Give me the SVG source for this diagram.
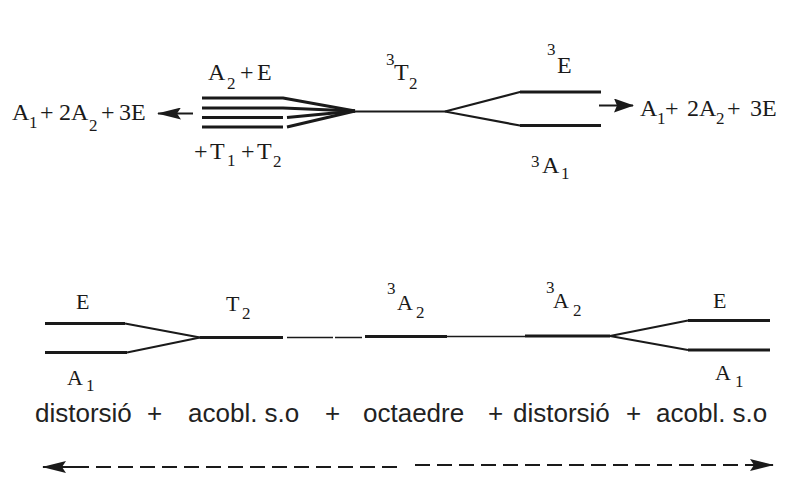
<svg xmlns="http://www.w3.org/2000/svg" width="787" height="487" viewBox="0 0 787 487">
<style>
.lv{fill:none;stroke:#1a1a1a;stroke-linecap:butt;stroke-linejoin:round}
.thick{stroke-width:3}
.mid{stroke-width:2.2}
.thin{stroke-width:1.4}
.sf{font-family:"Liberation Serif","Times New Roman",serif;font-size:24px;fill:#1a1a1a}
.sf2{font-family:"Liberation Serif","Times New Roman",serif;font-size:22px;fill:#1a1a1a}
.sb{font-size:17px}
.ss{font-family:"Liberation Sans",Arial,sans-serif;font-size:26px;fill:#222}
.ar{fill:none;stroke:#1a1a1a;stroke-width:2}
.dash{stroke-dasharray:15 7}
</style>
<defs>
<marker id="ah" viewBox="0 0 24 12" markerWidth="24" markerHeight="12" refX="23" refY="6" markerUnits="userSpaceOnUse" orient="auto">
<path d="M0,0 L24,6 L0,12 L4,6 Z" fill="#1a1a1a"/>
</marker>
<marker id="ahs" viewBox="0 0 20 14" markerWidth="20" markerHeight="14" refX="19" refY="7" markerUnits="userSpaceOnUse" orient="auto">
<path d="M0,0 L20,7 L0,14 L3,7 Z" fill="#1a1a1a"/>
</marker>
</defs>
<rect width="787" height="487" fill="#ffffff"/>

<g id="top-levels">
<path class="lv thick" d="M202,98 H283 L355,111"/>
<path class="lv thick" d="M202,108 H283 L355,111"/>
<path class="lv thick" d="M202,117.5 H283 M287,117.5 L355,111"/>
<path class="lv thick" d="M202,127 H283 M287,127 L355,111"/>
<path class="lv mid" d="M355,111.5 H445"/>
<path class="lv mid" d="M445,111.5 L520,92 H601"/>
<path class="lv mid" d="M445,111.5 L520,125.5 H601"/>
<path class="lv thick" d="M520,92 H601 M520,125.5 H601"/>
</g>

<g id="top-labels">
<text class="sf"><tspan x="208" y="80">A</tspan><tspan class="sb" x="227" y="89">2</tspan><tspan x="240" y="80">+</tspan><tspan x="257" y="80">E</tspan></text>
<text class="sf"><tspan x="194" y="159">+</tspan><tspan x="210" y="159">T</tspan><tspan class="sb" x="227" y="166">1</tspan><tspan x="241" y="159">+</tspan><tspan x="257" y="159">T</tspan><tspan class="sb" x="273" y="167">2</tspan></text>
<text class="sf"><tspan class="sb" x="386" y="65">3</tspan><tspan x="394" y="80">T</tspan><tspan class="sb" x="409" y="89">2</tspan></text>
<text class="sf"><tspan class="sb" x="547" y="55">3</tspan><tspan x="557" y="73">E</tspan></text>
<text class="sf"><tspan class="sb" x="531" y="167">3</tspan><tspan x="542" y="173">A</tspan><tspan class="sb" x="561" y="179">1</tspan></text>
<text class="sf"><tspan x="12" y="120">A</tspan><tspan class="sb" x="29" y="128">1</tspan><tspan x="40" y="120">+</tspan><tspan x="59" y="120">2A</tspan><tspan class="sb" x="89" y="131">2</tspan><tspan x="101" y="120">+</tspan><tspan x="119" y="120">3E</tspan></text>
<text class="sf"><tspan x="640" y="116">A</tspan><tspan class="sb" x="657" y="124">1</tspan><tspan x="665" y="116">+</tspan><tspan x="687" y="116">2A</tspan><tspan class="sb" x="716" y="124">2</tspan><tspan x="727" y="116">+</tspan><tspan x="750" y="116">3E</tspan></text>
</g>

<g id="bottom-levels">
<path class="lv thick" d="M45,323.5 H125"/>
<path class="lv mid" d="M125,323.5 L200,337.5"/>
<path class="lv thick" d="M45,352.5 H127"/>
<path class="lv mid" d="M127,352.5 L200,337.5"/>
<path class="lv thick" d="M200,337.5 H283"/>
<path class="lv thin" d="M287,337.5 H333 M335,337.5 H362"/>
<path class="lv thick" d="M365,336.5 H447"/>
<path class="lv thin" d="M447,336.5 H525"/>
<path class="lv thick" d="M525,336 H610"/>
<path class="lv mid" d="M610,336 L688,320.5 M610,336 L688,350"/>
<path class="lv thick" d="M688,320.5 H770 M688,350 H770"/>
</g>

<g id="bottom-labels">
<text class="sf2"><tspan x="76" y="309">E</tspan></text>
<text class="sf2"><tspan x="67" y="385">A</tspan><tspan class="sb" x="86" y="391">1</tspan></text>
<text class="sf2"><tspan x="226" y="311">T</tspan><tspan class="sb" x="242" y="319">2</tspan></text>
<text class="sf2"><tspan class="sb" x="387" y="294">3</tspan><tspan x="397" y="310">A</tspan><tspan class="sb" x="416" y="318">2</tspan></text>
<text class="sf2"><tspan class="sb" x="546" y="293">3</tspan><tspan x="553" y="308">A</tspan><tspan class="sb" x="573" y="316">2</tspan></text>
<text class="sf2"><tspan x="713" y="308">E</tspan></text>
<text class="sf2"><tspan x="715" y="380">A</tspan><tspan class="sb" x="735" y="387">1</tspan></text>
</g>

<g id="bottom-text">
<text class="ss" y="422"><tspan x="35">distorsió</tspan><tspan x="147">+</tspan><tspan x="188">acobl. s.o</tspan><tspan x="325">+</tspan><tspan x="363">octaedre</tspan><tspan x="488">+</tspan><tspan x="513">distorsió</tspan><tspan x="626">+</tspan><tspan x="656">acobl. s.o</tspan></text>
</g>

<g id="connectors">
<line class="ar" x1="193" y1="113.5" x2="158" y2="113.5" marker-end="url(#ah)"/>
<line class="ar" x1="599" y1="105.5" x2="633" y2="105.5" marker-end="url(#ahs)"/>
<line class="ar dash" x1="397" y1="467" x2="80" y2="467"/>
<line class="ar" x1="82" y1="467" x2="43" y2="467" marker-end="url(#ah)"/>
<line class="ar dash" x1="415" y1="465" x2="748" y2="465"/>
<line class="ar" x1="745" y1="465" x2="773" y2="465" marker-end="url(#ah)"/>
</g>
</svg>
